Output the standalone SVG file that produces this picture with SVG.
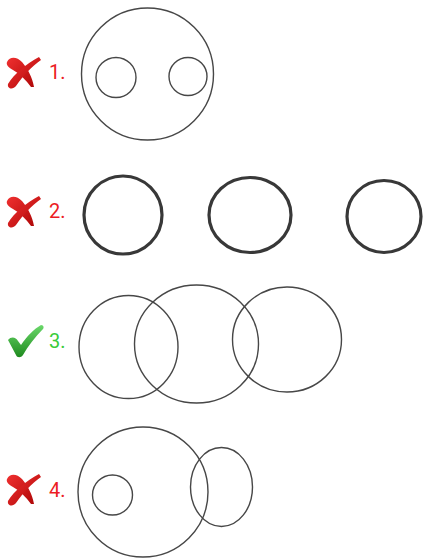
<svg xmlns="http://www.w3.org/2000/svg" width="423" height="559" viewBox="0 0 423 559">
<defs>
<style>
.thin{fill:none;stroke:#474747;stroke-width:1.4}
.thick{fill:none;stroke:#383838;stroke-width:3.2}
.lbl{font-family:Roboto,"Liberation Sans",sans-serif;font-size:20px}
.red{fill:#ec1c24}
.green{fill:#39cc39}
</style>
<linearGradient id="rg" x1="0" y1="0" x2="1" y2="1">
<stop offset="0" stop-color="#f03030"/>
<stop offset="1" stop-color="#b00808"/>
</linearGradient>
<linearGradient id="gg" x1="0" y1="0" x2="0" y2="1">
<stop offset="0" stop-color="#6ad86a"/>
<stop offset="1" stop-color="#1f8a1f"/>
</linearGradient>
<g id="xmark">
<path fill="url(#rg)" d="M0,5 C3,-1 10,0 15,5 C21,12 25,20 27,30 L24,30 C19,23 13,17 6,13 C1,10 -1,8 0,5 Z"/>
<path fill="url(#rg)" d="M32,0 L34,3 C25,9 16,19 9,29 C6,33 0,32 1,27 C7,17 19,7 32,0 Z"/>
</g>
<path id="check" fill="url(#gg)" d="M0,15 C3,11 8,12 10,16 L13,20 C19,11 26,4 33,0 C36,0 36,3 35,4 C27,12 20,21 15,30 C13,33 9,33 8,30 Z"/>
</defs>
<rect width="423" height="559" fill="#fff"/>
<g id="item1">
<use href="#xmark" x="7" y="57"/>
<text class="lbl red" x="49" y="79">1.</text>
<circle class="thin" cx="147.5" cy="74" r="66"/>
<circle class="thin" cx="116" cy="77.5" r="20"/>
<circle class="thin" cx="188" cy="76.5" r="19"/>
</g>
<g id="item2">
<use href="#xmark" x="7" y="196"/>
<text class="lbl red" x="49" y="218">2.</text>
<circle class="thick" cx="123" cy="215" r="39"/>
<ellipse class="thick" cx="250" cy="215" rx="41" ry="37.5"/>
<ellipse class="thick" cx="384" cy="216.5" rx="37" ry="36"/>
</g>
<g id="item3">
<use href="#check" x="8" y="325"/>
<text class="lbl green" x="49" y="348">3.</text>
<ellipse class="thin" cx="128.5" cy="347" rx="49.5" ry="51.5"/>
<ellipse class="thin" cx="196.5" cy="344" rx="62" ry="59"/>
<ellipse class="thin" cx="287" cy="339.5" rx="54.5" ry="52.5"/>
</g>
<g id="item4">
<use href="#xmark" x="7" y="474"/>
<text class="lbl red" x="49" y="497">4.</text>
<circle class="thin" cx="143" cy="492" r="65"/>
<circle class="thin" cx="112.5" cy="495" r="20"/>
<ellipse class="thin" cx="221.5" cy="487" rx="31" ry="39.5"/>
</g>
<g id="connectors"/>
</svg>
